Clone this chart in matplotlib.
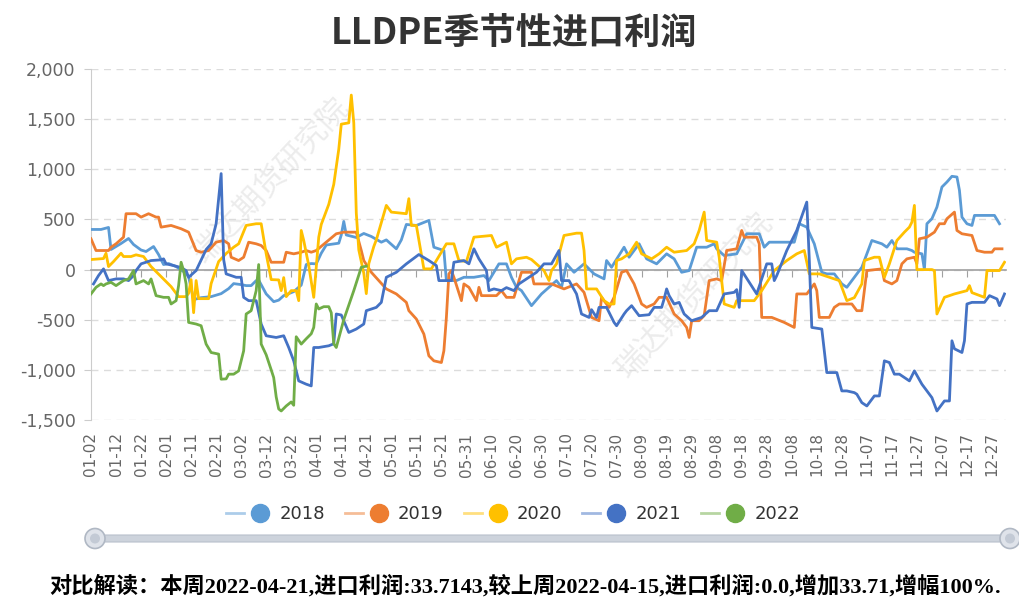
import matplotlib
matplotlib.use("Agg")
import matplotlib.pyplot as plt
import pandas as pd
from matplotlib.lines import Line2D
from matplotlib.legend_handler import HandlerTuple
from matplotlib.patches import Circle, FancyBboxPatch

plt.rcParams['font.family'] = ['DejaVu Sans', 'Noto Sans CJK SC']

# ---------------- data ----------------
categories = list(pd.date_range('2020-01-02', '2020-12-31').strftime('%m-%d'))  # category axis (index 0 = 01-02)
years = ['2018', '2019', '2020', '2021', '2022']
colors = ['#5B9BD5', '#ED7D31', '#FFC000', '#4472C4', '#70AD47']

# category index of each observation, and value
d2018 = [0, 4, 7, 8, 12, 15, 17, 20, 22, 25, 27, 29, 31, 34, 37, 39, 41, 44, 48, 52, 55, 57, 60, 62, 64, 66, 67, 70,
         73, 75, 77, 81, 84, 86, 88, 90, 92, 94, 99, 100, 101, 102, 106, 109, 112, 116, 118, 122, 124, 126, 130, 135,
         137, 141, 142, 146, 149, 153, 157, 159, 163, 166, 168, 170, 172, 176, 180, 183, 186, 188, 190, 193, 197, 201,
         205, 206, 208, 213, 215, 219, 222, 226, 230, 233, 236, 239, 242, 246, 249, 250, 253, 258, 262, 267, 269, 271,
         281, 283, 286, 289, 292, 294, 297, 300, 302, 304, 306, 308, 312, 316, 318, 320, 322, 326, 328, 329, 332, 333,
         334, 336, 338, 340, 342, 344, 346, 347, 348, 350, 352, 353, 357, 361, 363]
v2018 = [400, 400, 420, 200, 260, 310, 250, 195, 180, 230, 150, 50, 60, 30, -20, -70, -300, -280, -270, -240, -190, -140,
         -150, -160, -160, -110, -105, -243, -320, -305, -260, -220, -155, 50, 60, 57, 163, 245, 263, 345, 480, 345, 320,
         360, 330, 273, 296, 207, 296, 450, 440, 490, 223, 190, -110, -110, -77, -77, -60, -110, 57, 57, -77, -177, -210,
         -360, -243, -177, -110, -177, 57, -27, 57, -43, -93, 90, 23, 223, 123, 257, 107, 57, 157, 107, -27, -10, 223,
         223, 257, 207, 140, 157, 357, 357, 223, 273, 273, 457, 423, 257, -27, -43, -43, -143, -177, -110, -43, 23, 290,
         257, 223, 290, 207, 207, 190, 173, 157, 0, 457, 507, 623, 823, 873, 930, 923, 790, 523, 457, 440, 540, 540, 540,
         457]

d2019 = [0, 2, 7, 8, 10, 13, 14, 18, 20, 23, 26, 27, 28, 32, 36, 39, 42, 44, 47, 50, 53, 55, 56, 59, 61, 63, 66, 68, 70,
         72, 77, 78, 81, 84, 86, 88, 90, 94, 98, 101, 106, 108, 109, 112, 115, 118, 122, 126, 127, 130, 133, 135, 137,
         140, 141, 142, 143, 144, 145, 148, 149, 151, 154, 155, 156, 162, 164, 166, 169, 172, 176, 177, 181, 184, 189,
         194, 197, 200, 203, 204, 207, 209, 212, 214, 217, 220, 222, 225, 227, 230, 233, 236, 238, 239, 240, 243, 245,
         247, 250, 252, 254, 258, 260, 261, 266, 267, 268, 272, 277, 281, 282, 286, 289, 290, 291, 295, 297, 299, 304,
         306, 308, 310, 316, 317, 320, 322, 324, 326, 329, 330, 331, 334, 337, 339, 341, 342, 345, 346, 348, 352, 354,
         357, 360, 361, 364]
v2019 = [307, 190, 190, 223, 257, 323, 557, 557, 523, 557, 523, 523, 423, 440, 407, 373, 190, 173, 190, 273, 290, 257,
         123, 90, 123, 273, 257, 240, 190, 73, 73, 173, 157, 173, 190, 173, 190, 273, 357, 373, 373, 190, 90, -27, -110,
         -193, -243, -327, -410, -493, -643, -860, -910, -927, -810, -477, -43, -10, -77, -310, -143, -177, -310, -177,
         -260, -260, -210, -277, -277, -27, -27, -143, -143, -143, -193, -143, -227, -477, -510, -277, -377, -277, -27,
         -10, -143, -343, -377, -343, -277, -277, -443, -510, -577, -677, -510, -510, -460, -110, -93, -110, 190, 207,
         390, 323, 323, 257, -477, -477, -527, -577, -243, -243, -143, -210, -477, -477, -377, -343, -343, -410, -410,
         -10, 7, -110, -143, -110, 57, 107, 123, 57, 307, 323, 373, 457, 457, 507, 573, 390, 357, 340, 190, 173, 173, 207,
         207]

d2020 = [0, 5, 6, 7, 9, 12, 13, 16, 18, 21, 24, 28, 32, 35, 38, 39, 40, 41, 42, 43, 47, 48, 51, 54, 57, 59, 62, 66, 68,
         70, 72, 75, 76, 77, 78, 80, 82, 83, 84, 85, 87, 89, 91, 92, 95, 97, 99, 100, 103, 104, 105, 106, 107, 108, 109,
         110, 111, 113, 114, 118, 120, 126, 127, 128, 130, 133, 136, 138, 142, 145, 147, 150, 153, 160, 162, 166, 168,
         170, 174, 176, 181, 183, 184, 186, 189, 194, 196, 197, 198, 202, 205, 207, 209, 210, 212, 215, 218, 220, 224,
         227, 230, 233, 238, 241, 243, 245, 246, 250, 251, 253, 257, 258, 265, 268, 273, 278, 282, 285, 287, 291, 295,
         299, 302, 305, 308, 309, 313, 315, 317, 319, 322, 325, 327, 328, 329, 330, 336, 337, 338, 341, 345, 350, 351,
         352, 357, 358, 363, 365]
v2020 = [100, 110, 163, 30, 80, 163, 130, 130, 147, 130, 30, -70, -170, -270, -270, -237, -100, -430, -110, -290, -290,
         -140, 80, 160, 223, 257, 440, 457, 457, 157, -100, -103, -210, -80, -270, -210, -210, -310, 390, 290, 40, -277,
         323, 450, 650, 850, 1200, 1450, 1463, 1740, 1463, 563, 196, 80, -37, -240, 60, 230, 296, 640, 573, 557, 707,
         440, 440, 7, 7, 90, 257, 257, 90, 80, 323, 340, 223, 273, 57, 107, 123, 100, -10, -110, -10, 57, 340, 363, 363,
         190, -193, -193, -310, -343, -343, 90, 107, 157, 273, 157, 107, 157, 223, 173, 190, 257, 390, 573, 290, 273,
         123, -343, -377, -310, -310, -210, -10, 90, 157, 190, -43, -43, -77, -110, -310, -280, -143, 90, 123, 123, -77,
         57, 290, 373, 423, 473, 640, 0, 0, -10, -443, -277, -243, -210, -160, -230, -277, -10, -10, 73]

d2021 = [1, 3, 5, 7, 10, 13, 15, 17, 18, 20, 24, 28, 29, 30, 33, 36, 38, 39, 42, 46, 48, 50, 52, 53, 54, 56, 58, 60, 61,
         63, 66, 68, 70, 74, 77, 79, 81, 83, 86, 88, 89, 91, 95, 97, 98, 100, 103, 106, 109, 110, 114, 116, 118, 122,
         126, 131, 135, 138, 139, 144, 145, 149, 151, 153, 155, 158, 159, 161, 164, 166, 169, 171, 175, 178, 181, 184,
         187, 188, 191, 194, 196, 199, 200, 202, 203, 206, 209, 210, 213, 214, 216, 219, 223, 225, 228, 229, 230, 231,
         233, 235, 237, 240, 242, 244, 247, 250, 253, 257, 258, 259, 260, 266, 270, 272, 273, 274, 278, 282, 286, 287,
         288, 292, 294, 298, 300, 302, 305, 306, 308, 310, 313, 315, 317, 319, 321, 323, 327, 329, 332, 336, 338, 341,
         343, 344, 345, 348, 349, 350, 352, 357, 359, 362, 363, 365]
v2021 = [-143, -60, 7, -110, -93, -93, -110, -60, -10, 57, 90, 97, 107, 57, 40, 20, -10, -77, -10, 200, 257, 457, 957,
         100, -43, -60, -77, -77, -277, -310, -310, -543, -660, -677, -660, -777, -910, -1110, -1143, -1160, -777, -777,
         -760, -740, -443, -453, -627, -593, -543, -410, -377, -327, -77, -27, 57, 150, 90, 40, -110, -110, 73, 90, 57,
         207, 107, -10, -210, -193, -210, -180, -210, -143, -77, -27, 57, 57, 190, -110, -110, -243, -443, -477, -400,
         -477, -377, -377, -527, -560, -443, -410, -360, -460, -450, -377, -377, -293, -193, -260, -343, -327, -443, -510,
         -493, -477, -410, -410, -243, -227, -200, -377, -10, -243, 57, 57, -110, -60, 190, 390, 673, 100, -577, -593,
         -1027, -1027, -1210, -1210, -1227, -1243, -1327, -1360, -1260, -1260, -910, -927, -1043, -1043, -1110, -1010,
         -1143, -1277, -1410, -1310, -1310, -710, -790, -827, -710, -343, -327, -327, -260, -293, -360, -243]

d2022 = [0, 2, 4, 5, 6, 8, 10, 13, 15, 17, 18, 21, 23, 24, 26, 29, 31, 32, 34, 35, 36, 37, 38, 39, 42, 44, 46, 48, 51,
         52, 54, 55, 57, 59, 61, 62, 64, 66, 67, 68, 70, 72, 73, 74, 75, 76, 78, 80, 81, 82, 84, 86, 88, 89, 90, 91, 93,
         95, 96, 97, 98, 101, 105, 108, 110]
v2022 = [-243, -177, -143, -160, -143, -127, -160, -110, -93, -10, -143, -110, -143, -93, -260, -277, -277, -343, -310,
         -160, 73, -10, -143, -527, -543, -560, -743, -827, -843, -1093, -1090, -1043, -1043, -1010, -810, -443, -410,
         -210, 50, -743, -850, -1000, -1077, -1270, -1390, -1410, -1360, -1320, -1353, -670, -743, -690, -640, -577,
         -343, -393, -370, -370, -430, -740, -777, -500, -210, 23, 34]

xs = [d2018, d2019, d2020, d2021, d2022]
ys = [v2018, v2019, v2020, v2021, v2022]

y_ticks = [-1500, -1000, -500, 0, 500, 1000, 1500, 2000]
title = 'LLDPE季节性进口利润'
footer = '对比解读：本周2022-04-21,进口利润:33.7143,较上周2022-04-15,进口利润:0.0,增加33.71,增幅100%.'
watermark = '瑞达期货研究院'

# ---------------- figure ----------------
W, H = 1020, 599
fig = plt.figure(figsize=(W / 100, H / 100), dpi=100)
fig.patch.set_facecolor('white')

L, R, T, B = 91, 1006, 69, 420
ax = fig.add_axes([L / W, 1 - B / H, (R - L) / W, (B - T) / H])
ax.set_facecolor('none')

for x, y, c in zip(xs, ys, colors):
    ax.plot(x, y, color=c, lw=2.0, solid_joinstyle='round', zorder=3)

ax.set_xlim(0, 365.6)
ax.set_ylim(-1500, 2000)
ax.set_yticks(y_ticks)
ax.set_yticklabels([f'{v:,}' for v in y_ticks], color='#666666', fontsize=12.5)
ax.tick_params(axis='y', length=5, color='#cccccc', pad=6)
ax.yaxis.grid(True, linestyle=(0, (5, 4)), color='#dcdcdc', lw=1)
ax.set_axisbelow(True)

for s in ['top', 'right']:
    ax.spines[s].set_visible(False)
ax.spines['left'].set_color('#cccccc')
ax.spines['bottom'].set_position(('data', 0))
ax.spines['bottom'].set_color('#a0a0a0')
ax.spines['bottom'].set_linewidth(1.2)
ax.spines['bottom'].set_zorder(2.5)

tick_pos = list(range(0, len(categories), 10))
ax.set_xticks(tick_pos)
ax.set_xticklabels([])
ax.tick_params(axis='x', length=5, color='#a0a0a0', direction='out')

sec = ax.secondary_xaxis(0)
sec.set_xticks(tick_pos)
sec.set_xticklabels([categories[i] for i in tick_pos], rotation=90, color='#666666', fontsize=11)
sec.tick_params(length=0, pad=9)
sec.spines['bottom'].set_visible(False)

# title
fig.text(514 / W, 1 - 33 / H, title, ha='center', va='center', fontsize=26, fontweight='bold',
         color='#333333', family=['Noto Sans CJK SC'])

# watermarks
for (cx, cy) in [(272, 180), (695, 295)]:
    fig.text(cx / W, 1 - cy / H, watermark, ha='center', va='center', rotation=47, fontsize=22,
             color='#ececec', family=['Noto Sans CJK SC'], zorder=-1)

# legend
handles = []
for c in colors:
    ln = Line2D([], [], color=c, lw=2, alpha=0.5)
    mk = Line2D([], [], color=c, marker='o', ms=13, ls='none')
    handles.append((ln, mk))
leg = fig.legend(handles, years, loc='center', bbox_to_anchor=(0.503, 1 - 514 / H), ncol=5, frameon=False,
                 fontsize=13, handlelength=2.4, handletextpad=0.55, columnspacing=1.1,
                 handler_map={tuple: HandlerTuple(ndivide=None)})
for t in leg.get_texts():
    t.set_color('#333333')

# slider (data zoom) drawn in pixel space
ov = fig.add_axes([0, 0, 1, 1], zorder=-2)
ov.set_xlim(0, W)
ov.set_ylim(H, 0)
ov.axis('off')
ov.patch.set_alpha(0)
ov.add_patch(FancyBboxPatch((95, 535), 915, 7, boxstyle='round,pad=0,rounding_size=3',
                            facecolor='#cdd3dc', edgecolor='#b8c0cb', lw=0.8))
for hx in (95, 1010):
    ov.add_patch(Circle((hx, 538.5), 10, facecolor='#dfe3ea', edgecolor='#b0b8c4', lw=1.2))
    ov.add_patch(Circle((hx, 538.5), 5, facecolor='#c3cad5', edgecolor='none'))

# footer
fig.text(525 / W, 1 - 586 / H, footer, ha='center', va='center', fontsize=16, fontweight='bold',
         color='#000000', family=['Liberation Serif', 'Noto Sans CJK SC'])

fig.savefig('out.png', dpi=100, facecolor='white')
